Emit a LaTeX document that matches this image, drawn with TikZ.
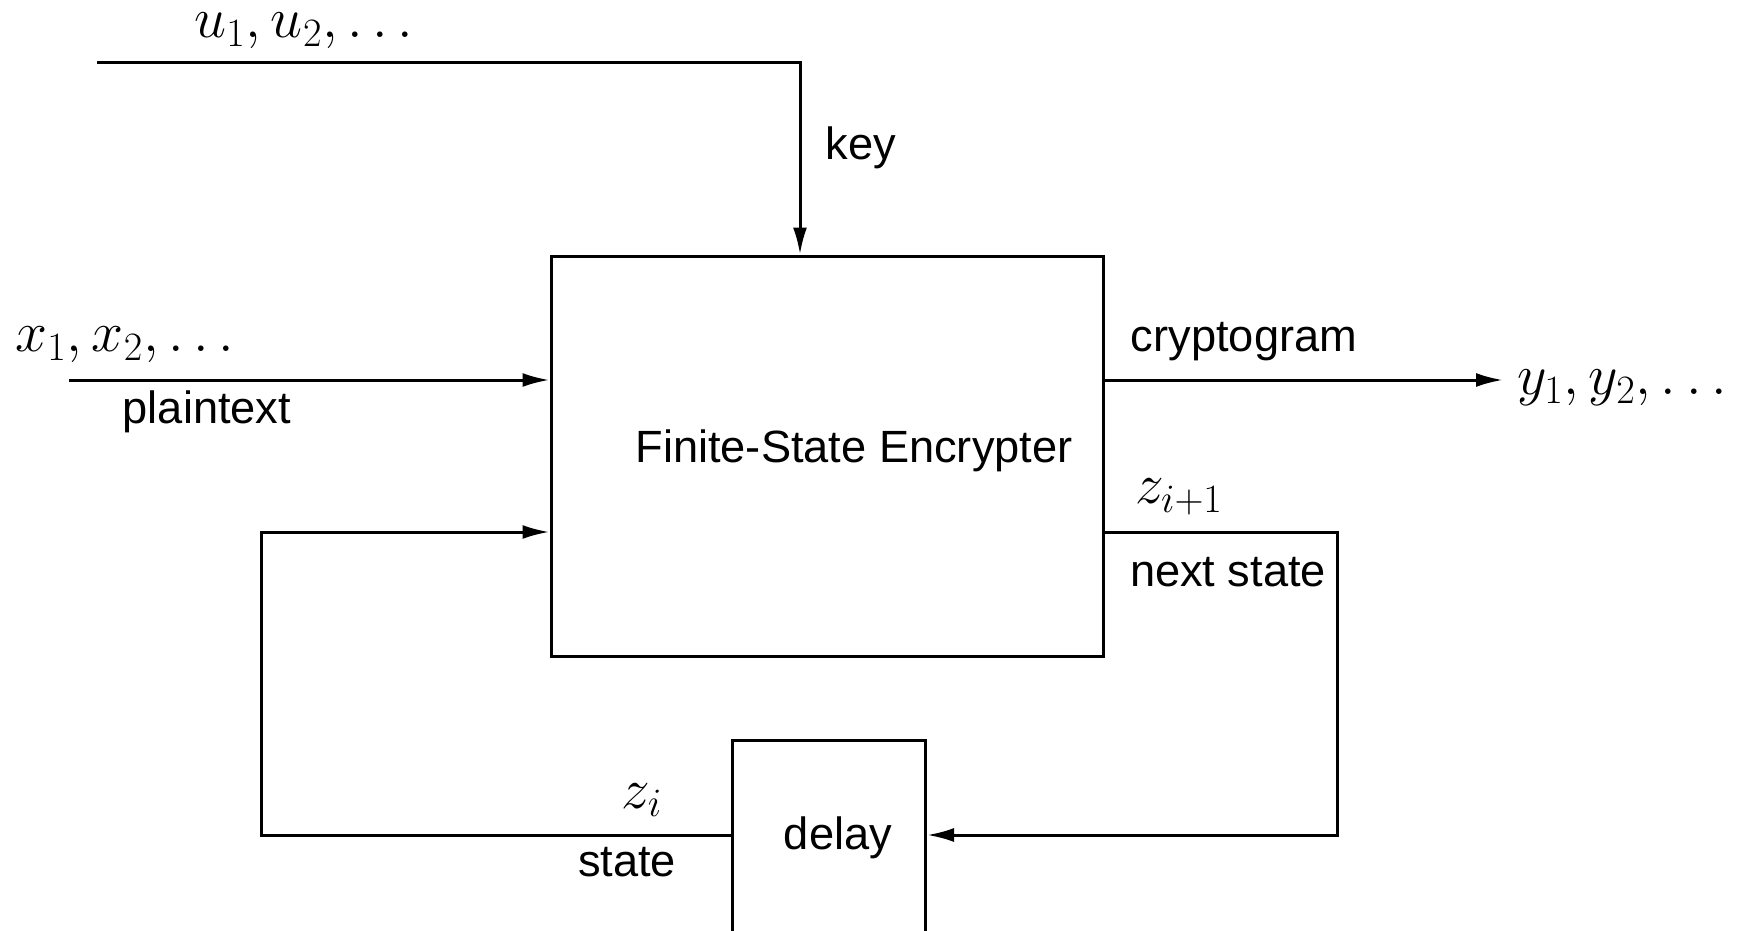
\RequirePackage{fix-cm}
\documentclass[tikz,border=0pt]{standalone}
\usepackage{fontspec}
\setmainfont{Liberation Sans}
\usetikzlibrary{arrows.meta}
\tikzset{
  wire/.style={line width=1.5pt},
  arr/.style={wire,-{Latex[length=13.5pt,width=7pt]}},
  blk/.style={draw,line width=1.5pt,inner sep=0pt},
  lbl/.style={inner sep=0pt,font=\fontsize{22.6}{26}\selectfont},
  mlbl/.style={inner sep=0pt,font=\fontsize{28.7}{32}\selectfont},
}
\begin{document}
\begin{tikzpicture}[x=0.5pt,y=-0.5pt]
\useasboundingbox (0,0) rectangle (1752,931);
\clip (0,0) rectangle (1752,931);
% main box
\node[blk,minimum width=276pt,minimum height=200pt] (enc) at (827,456) {};
% delay box (runs past the bottom edge)
\node[blk,minimum width=96.5pt,minimum height=110pt,anchor=north west] (dly) at (731,739) {};
% free ends
\coordinate (kstart) at (97,63);
\coordinate (kcorner) at (800,63);
\coordinate (xstart) at (69,380);
\coordinate (yend) at (1503,380);
\coordinate (nsA) at (1337,532);
\coordinate (nsB) at (1337,835);
\coordinate (stA) at (261,835);
\coordinate (stB) at (261,532);
% connectors
\draw[arr] (kstart) -- (kcorner) -- (kcorner |- enc.north);
\draw[arr] (xstart) -- (xstart -| enc.west);
\draw[arr] (enc.east |- yend) -- (yend);
\draw[arr] (enc.east |- nsA) -- (nsA) -- (nsB) -- (nsB -| dly.east);
\draw[arr] (dly.west |- stA) -- (stA) -- (stB) -- (stB -| enc.west);
% labels
\node[mlbl] (u) at (304,31) {$u_1, u_2, \ldots$};
\node[lbl] (key) at (861,148) {key};
\node[mlbl] (x) at (125,345) {$x_1, x_2, \ldots$};
\node[lbl] (pt) at (207,412) {plaintext};
\node[lbl] (cg) at (1244,342) {cryptogram};
\node[mlbl] (y) at (1622,388) {$y_1, y_2, \ldots$};
\node[lbl] (fse) at (854,451) {Finite-State Encrypter};
\node[mlbl] (zn) at (1179,497) {$z_{i+1}$};
\node[lbl] (ns) at (1228,572) {next state};
\node[mlbl] (zi) at (642,800) {$z_i$};
\node[lbl] (st) at (627,862) {state};
\node[lbl] (dl) at (838,838) {delay};
\end{tikzpicture}
\end{document}
